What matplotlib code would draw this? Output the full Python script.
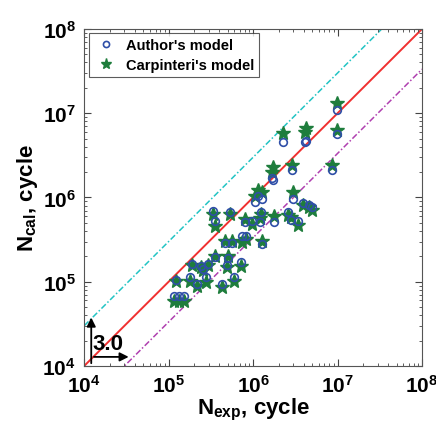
import matplotlib.pyplot as plt
import numpy as np

plt.rcParams['font.family'] = ['Liberation Sans', 'DejaVu Sans']
plt.rcParams['font.weight'] = 'bold'
plt.rcParams['mathtext.fontset'] = 'custom'
plt.rcParams['mathtext.rm'] = 'Liberation Sans:bold'
plt.rcParams['mathtext.bf'] = 'Liberation Sans:bold'
plt.rcParams['mathtext.it'] = 'Liberation Sans:bold'

# experimental life and the two model predictions (cycles)
n_exp = [9.9e6, 9.9e6, 2.26e6, 4.12e6, 4.24e6, 1.72e6, 1.68e6, 2.90e6, 8.61e6,
         1.28e6, 1.06e6, 1.15e6, 2.97e6, 3.91e6, 4.60e6, 4.99e6,
         3.36e5, 3.55e5, 5.34e5, 8.04e5, 9.73e5, 1.24e6, 1.21e6, 1.77e6, 2.60e6,
         2.82e6, 3.41e6, 4.66e5, 5.64e5, 7.41e5, 8.26e5, 1.28e6,
         3.55e5, 5.06e5, 1.90e5, 2.42e5, 2.93e5, 2.56e5, 4.92e5, 7.21e5,
         1.23e5, 1.80e5, 2.17e5, 2.78e5, 4.30e5, 5.96e5, 1.16e5, 1.33e5, 1.53e5]
n_author = [1.10e7, 5.72e6, 4.60e6, 4.60e6, 4.73e6, 1.63e6, 1.72e6, 2.14e6, 2.14e6,
            9.47e5, 8.73e5, 1.03e6, 9.47e5, 8.49e5, 8.04e5, 7.62e5,
            6.83e5, 5.20e5, 6.64e5, 5.06e5, 5.20e5, 6.64e5, 5.06e5, 5.06e5, 6.64e5,
            5.34e5, 5.20e5, 2.86e5, 2.86e5, 3.45e5, 3.45e5, 2.78e5,
            1.95e5, 1.90e5, 1.61e5, 1.53e5, 1.61e5, 1.41e5, 1.57e5, 1.70e5,
            1.04e5, 1.13e5, 9.34e4, 1.13e5, 9.34e4, 1.13e5, 6.74e4, 6.74e4, 6.74e4]
n_carp = [1.33e7, 6.38e6, 5.88e6, 6.04e6, 6.74e6, 2.33e6, 1.98e6, 2.46e6, 2.46e6,
          1.15e6, 1.03e6, 1.24e6, 1.15e6, 8.04e5, 7.62e5, 7.02e5,
          6.30e5, 4.54e5, 6.30e5, 5.49e5, 4.79e5, 6.30e5, 5.64e5, 5.96e5, 6.12e5,
          5.80e5, 4.66e5, 3.01e5, 3.01e5, 2.93e5, 3.18e5, 3.01e5,
          2.00e5, 2.00e5, 1.57e5, 1.48e5, 1.57e5, 1.37e5, 1.48e5, 1.53e5,
          1.01e5, 1.01e5, 8.85e4, 9.86e4, 8.61e4, 1.01e5, 5.88e4, 5.88e4, 5.88e4]

lims = [1e4, 1e8]
band = 3.0

fig = plt.figure(figsize=(4.36, 4.31), dpi=100)
ax = fig.add_axes([0.193, 0.1485, 0.775, 0.782])

ref = np.array(lims)
ax.plot(ref, ref * band, color='#22c4c4', ls=(0, (4, 1.5, 1, 1.5)), lw=1.1, zorder=1)
ax.plot(ref, ref, color='#f03030', ls='-', lw=1.4, zorder=1)
ax.plot(ref, ref / band, color='#b040b0', ls=(0, (4, 1.5, 1, 1.5)), lw=1.1, zorder=1)

ax.plot(n_exp, n_author, ls='none', marker='o', ms=5.5, mfc='none', mec='#2f4fa8',
        mew=1.2, label="Author's model", zorder=3)
ax.plot(n_exp, n_carp, ls='none', marker='*', ms=10, mfc='#1e7d3c', mec='#1e7d3c',
        label="Carpinteri's model", zorder=2)

ax.set_xscale('log')
ax.set_yscale('log')
ax.set_xlim(lims)
ax.set_ylim(lims)

ticks = [1e4, 1e5, 1e6, 1e7, 1e8]
labels = [r'$\mathbf{10^{%d}}$' % int(np.log10(t)) for t in ticks]
ax.set_xticks(ticks)
ax.set_xticklabels(labels, fontsize=15)
ax.set_yticks(ticks)
ax.set_yticklabels(labels, fontsize=15)
ax.tick_params(which='both', direction='in', top=True, right=True, color='#444444')
ax.tick_params(which='major', length=5, width=0.8, pad=6)
ax.tick_params(which='minor', length=2.5, width=0.6)
for s in ax.spines.values():
    s.set_color('#555555')
    s.set_linewidth(0.8)

ax.set_xlabel(r'N$_{\mathbf{exp}}$, cycle', fontsize=16, fontweight='bold', labelpad=0)
ax.set_ylabel(r'N$_{\mathbf{cal}}$, cycle', fontsize=16, fontweight='bold', labelpad=2)

leg = ax.legend(loc='upper left', frameon=True, fancybox=False,
                borderaxespad=0.3, handletextpad=0.5, borderpad=0.35,
                labelspacing=0.4, handlelength=1.7, markerscale=0.8,
                prop={'weight': 'bold', 'size': 10.5})
leg.get_frame().set_edgecolor('#333333')
leg.get_frame().set_linewidth(0.8)

# factor-of-3 arrows
ax.annotate('', xy=(0.021, 0.152), xytext=(0.021, 0.0), xycoords='axes fraction',
            arrowprops=dict(arrowstyle='-|>', color='black', lw=1.3, mutation_scale=13))
ax.annotate('', xy=(0.14, 0.027), xytext=(0.021, 0.027), xycoords='axes fraction',
            arrowprops=dict(arrowstyle='-|>', color='black', lw=1.3, mutation_scale=13))
ax.text(0.024, 0.037, '3.0', transform=ax.transAxes, fontsize=16, fontweight='bold',
        ha='left', va='bottom')

plt.savefig('out.png', dpi=100)
